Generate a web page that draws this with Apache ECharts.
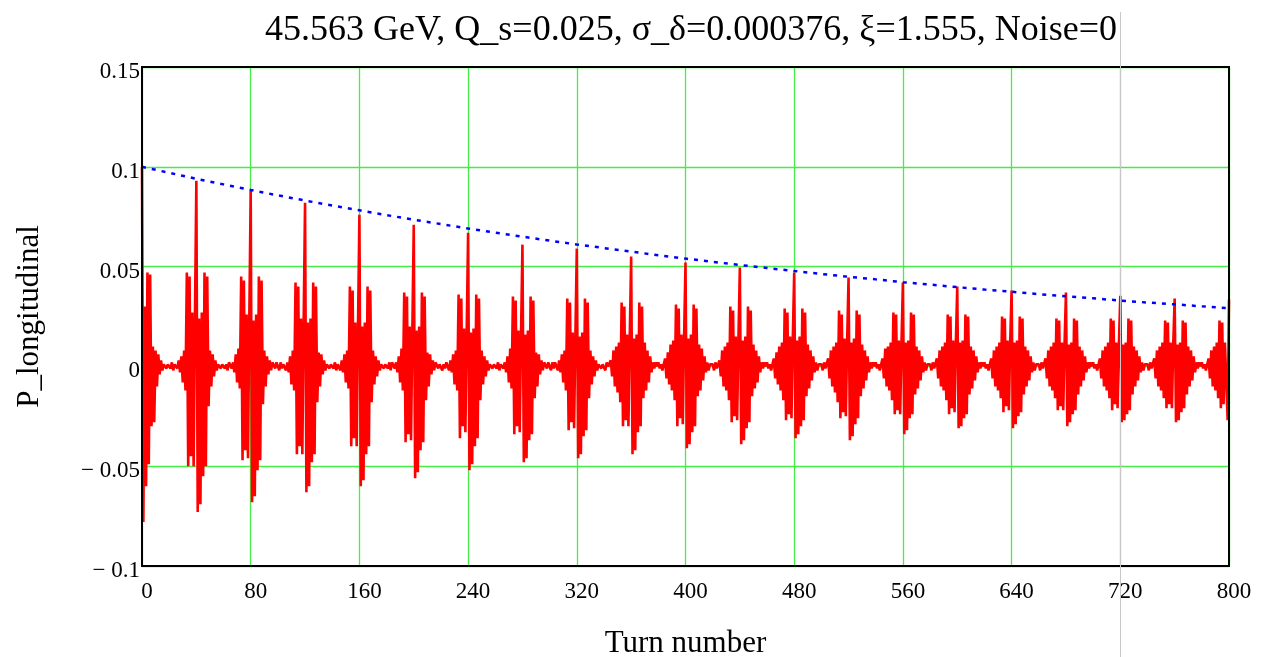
<!DOCTYPE html>
<html>
<head>
<meta charset="utf-8">
<script src="https://cdn.jsdelivr.net/npm/echarts@6/dist/echarts.min.js"></script>
<style>
html,body{margin:0;padding:0;background:#fff;}
#chart{width:1268px;height:657px;}
</style>
</head>
<body>
<div id="chart"></div>
<script>
// ---- data ----
var titleText = '45.563 GeV, Q_s=0.025, \u03c3_\u03b4=0.000376, \u03be=1.555, Noise=0';
var xName = 'Turn number';
var yName = 'P_longitudinal';
var xTicks = [0, 80, 160, 240, 320, 400, 480, 560, 640, 720, 800];
var yTicks = [-0.1, -0.05, 0, 0.05, 0.1, 0.15];

// P_longitudinal, one value per turn (turn = index), 0..800
var pLongitudinal = [
  // turns 0..19
  0.100,-0.078,0.030,-0.060,0.047,-0.049,0.046,-0.030,0.010,-0.028,
  0.008,-0.010,0.006,-0.004,0.003,-0.002,0.001,0.002,-0.001,0.001,
  // turns 20..59 (burst at 40)
  0.001,-0.001,0.002,-0.002,0.001,0.002,-0.001,0.003,-0.003,
  0.005,-0.008,0.008,-0.012,
  0.047,-0.050,0.045,-0.045,0.027,-0.050,0.027,
  0.093,-0.073,0.024,-0.069,0.027,-0.055,0.047,-0.050,0.045,
  -0.020,0.008,-0.010,0.006,-0.005,0.003,-0.002,0.001,0.002,-0.001,0.001,
  // turns 60..99 (burst at 80)
  0.002,-0.001,0.001,-0.002,0.002,0.001,-0.001,0.002,-0.003,
  0.006,-0.008,0.009,-0.011,
  0.045,-0.047,0.043,-0.042,0.026,-0.046,0.026,
  0.088,-0.068,0.023,-0.065,0.026,-0.052,0.045,-0.047,0.043,
  -0.019,0.008,-0.010,0.005,-0.004,0.003,-0.002,0.002,0.001,-0.001,0.002,
  // turns 100..139 (burst at 120)
  0.001,-0.002,0.002,-0.001,0.001,0.002,-0.002,0.002,-0.003,
  0.005,-0.009,0.008,-0.012,
  0.042,-0.044,0.040,-0.040,0.024,-0.044,0.024,
  0.082,-0.063,0.022,-0.060,0.024,-0.048,0.042,-0.044,0.040,
  -0.018,0.007,-0.010,0.006,-0.004,0.003,-0.002,0.001,0.002,-0.001,0.001,
  // turns 140..179 (burst at 160)
  0.002,-0.001,0.002,-0.002,0.001,0.001,-0.002,0.003,-0.003,
  0.006,-0.008,0.008,-0.011,
  0.040,-0.040,0.038,-0.036,0.022,-0.040,0.022,
  0.076,-0.060,0.020,-0.057,0.022,-0.044,0.040,-0.040,0.038,
  -0.018,0.008,-0.009,0.005,-0.005,0.003,-0.002,0.001,0.002,-0.001,0.001,
  // turns 180..219 (burst at 200)
  0.001,-0.001,0.002,-0.002,0.002,0.001,-0.001,0.002,-0.003,
  0.005,-0.008,0.009,-0.012,
  0.037,-0.038,0.035,-0.034,0.020,-0.037,0.020,
  0.071,-0.056,0.018,-0.053,0.020,-0.042,0.037,-0.038,0.035,
  -0.017,0.007,-0.010,0.006,-0.004,0.003,-0.002,0.002,0.001,-0.001,0.001,
  // turns 220..259 (burst at 240)
  0.002,-0.002,0.001,-0.001,0.002,0.001,-0.002,0.003,-0.003,
  0.006,-0.009,0.008,-0.012,
  0.036,-0.036,0.034,-0.030,0.019,-0.033,0.019,
  0.067,-0.052,0.017,-0.049,0.019,-0.040,0.036,-0.036,0.034,
  -0.017,0.008,-0.009,0.005,-0.005,0.003,-0.002,0.001,0.002,-0.001,0.001,
  // turns 260..299 (burst at 280)
  0.001,-0.001,0.002,-0.002,0.001,0.002,-0.001,0.002,-0.003,
  0.005,-0.008,0.009,-0.011,
  0.035,-0.034,0.033,-0.030,0.018,-0.033,0.018,
  0.061,-0.048,0.016,-0.046,0.018,-0.037,0.035,-0.034,0.033,
  -0.016,0.007,-0.010,0.006,-0.004,0.003,-0.002,0.002,0.001,-0.001,0.002,
  // turns 300..339 (burst at 320)
  0.001,-0.002,0.002,-0.001,0.002,0.001,-0.002,0.003,-0.003,
  0.006,-0.008,0.008,-0.012,
  0.034,-0.032,0.032,-0.028,0.017,-0.031,0.017,
  0.059,-0.046,0.015,-0.044,0.017,-0.035,0.034,-0.032,0.032,
  -0.016,0.008,-0.009,0.005,-0.005,0.003,-0.002,0.001,0.002,-0.001,0.001,
  // turns 340..379 (burst at 360)
  0.001,-0.002,0.002,0.000,-0.001,
  0.003,-0.005,0.008,-0.010,0.010,-0.013,
  0.012,-0.018,0.032,-0.030,0.030,-0.027,0.016,-0.030,0.016,
  0.055,-0.044,0.014,-0.042,0.016,-0.033,0.032,-0.030,0.030,
  -0.016,0.012,-0.012,0.008,-0.008,0.005,
  -0.003,0.002,-0.001,0.002,0.000,
  // turns 380..419 (burst at 400)
  0.002,-0.001,0.001,-0.002,0.001,
  0.004,-0.006,0.007,-0.009,0.011,-0.012,
  0.013,-0.017,0.031,-0.030,0.029,-0.026,0.016,-0.029,0.016,
  0.052,-0.041,0.014,-0.039,0.016,-0.033,0.031,-0.030,0.029,
  -0.015,0.011,-0.012,0.009,-0.007,0.005,
  -0.003,0.002,-0.002,0.001,0.001,
  // turns 420..459 (burst at 440)
  0.001,-0.002,0.002,-0.001,0.000,
  0.003,-0.005,0.008,-0.010,0.010,-0.012,
  0.012,-0.017,0.030,-0.028,0.028,-0.025,0.015,-0.027,0.015,
  0.0495,-0.039,0.013,-0.037,0.015,-0.031,0.030,-0.028,0.028,
  -0.015,0.011,-0.011,0.008,-0.008,0.005,
  -0.003,0.002,-0.001,0.002,0.000,
  // turns 460..499 (burst at 480)
  0.002,-0.001,0.001,-0.002,0.001,
  0.004,-0.006,0.007,-0.009,0.010,-0.012,
  0.012,-0.017,0.029,-0.027,0.027,-0.024,0.015,-0.026,0.015,
  0.047,-0.036,0.013,-0.034,0.015,-0.030,0.029,-0.027,0.027,
  -0.015,0.011,-0.011,0.008,-0.007,0.005,
  -0.003,0.002,-0.002,0.001,0.001,
  // turns 500..539 (burst at 520)
  0.001,-0.002,0.002,-0.001,0.000,
  0.004,-0.006,0.008,-0.010,0.010,-0.013,
  0.012,-0.018,0.028,-0.026,0.026,-0.023,0.014,-0.025,0.014,
  0.0445,-0.037,0.012,-0.035,0.014,-0.029,0.028,-0.026,0.026,
  -0.015,0.011,-0.011,0.008,-0.007,0.005,
  -0.003,0.002,-0.001,0.002,0.000,
  // turns 540..579 (burst at 560)
  0.002,-0.001,0.001,-0.002,0.001,
  0.004,-0.006,0.009,-0.010,0.010,-0.012,
  0.012,-0.017,0.027,-0.024,0.026,-0.022,0.013,-0.024,0.013,
  0.042,-0.034,0.012,-0.032,0.013,-0.026,0.027,-0.024,0.026,
  -0.014,0.010,-0.011,0.008,-0.007,0.005,
  -0.003,0.002,-0.002,0.001,0.001,
  // turns 580..619 (burst at 600)
  0.001,-0.002,0.002,-0.001,0.000,
  0.004,-0.006,0.008,-0.010,0.010,-0.012,
  0.012,-0.017,0.026,-0.024,0.025,-0.021,0.013,-0.023,0.013,
  0.040,-0.031,0.012,-0.030,0.013,-0.026,0.026,-0.024,0.025,
  -0.014,0.010,-0.011,0.008,-0.007,0.005,
  -0.003,0.002,-0.001,0.002,0.000,
  // turns 620..659 (burst at 640)
  0.002,-0.001,0.001,-0.002,0.001,
  0.004,-0.006,0.008,-0.010,0.010,-0.012,
  0.012,-0.016,0.025,-0.023,0.024,-0.020,0.013,-0.022,0.013,
  0.038,-0.031,0.012,-0.029,0.013,-0.025,0.025,-0.023,0.024,
  -0.014,0.010,-0.010,0.008,-0.007,0.005,
  -0.003,0.002,-0.002,0.001,0.001,
  // turns 660..699 (burst at 680)
  0.001,-0.002,0.002,-0.001,0.000,
  0.004,-0.006,0.008,-0.010,0.010,-0.012,
  0.012,-0.016,0.024,-0.022,0.023,-0.020,0.012,-0.022,0.012,
  0.037,-0.030,0.011,-0.028,0.012,-0.024,0.024,-0.022,0.023,
  -0.014,0.010,-0.010,0.008,-0.007,0.005,
  -0.003,0.002,-0.001,0.002,0.000,
  // turns 700..739 (burst at 720)
  0.002,-0.001,0.001,-0.002,0.001,
  0.004,-0.006,0.008,-0.010,0.010,-0.012,
  0.012,-0.016,0.024,-0.022,0.023,-0.019,0.012,-0.021,0.012,
  0.0354,-0.028,0.011,-0.027,0.012,-0.024,0.024,-0.022,0.023,
  -0.014,0.010,-0.010,0.008,-0.007,0.005,
  -0.003,0.002,-0.002,0.001,0.001,
  // turns 740..779 (burst at 760)
  0.001,-0.002,0.002,-0.001,0.000,
  0.004,-0.006,0.008,-0.010,0.010,-0.012,
  0.012,-0.016,0.023,-0.021,0.022,-0.019,0.012,-0.021,0.012,
  0.034,-0.028,0.011,-0.027,0.012,-0.023,0.023,-0.021,0.022,
  -0.014,0.010,-0.010,0.008,-0.007,0.005,
  -0.003,0.002,-0.001,0.002,0.000,
  // turns 780..800 (burst at 800)
  0.002,-0.001,0.001,-0.002,0.001,
  0.004,-0.006,0.008,-0.010,0.010,-0.012,
  0.012,-0.016,0.023,-0.021,0.022,-0.019,0.012,0.011,-0.027,
  0.0335
];

// dotted blue envelope, read every 20 turns
var envelopeTurns = [0,20,40,60,80,100,120,140,160,180,200,220,240,260,280,300,320,340,360,380,
                     400,420,440,460,480,500,520,540,560,580,600,620,640,660,680,700,720,740,760,780,800];
var envelopeValues = [0.1000,0.0970,0.0940,0.0912,0.0884,0.0857,0.0831,0.0806,0.0782,0.0758,
                      0.0735,0.0713,0.0691,0.0670,0.0650,0.0630,0.0611,0.0593,0.0575,0.0557,
                      0.0540,0.0524,0.0508,0.0493,0.0478,0.0463,0.0449,0.0436,0.0422,0.0410,
                      0.0397,0.0385,0.0374,0.0362,0.0351,0.0341,0.0330,0.0320,0.0311,0.0301,0.0292];

var cursorTurn = 720; // light grey cursor line in the screenshot

// ---- chart ----
var serif = '"Liberation Serif", "DejaVu Serif", serif';
var gridGreen = '#44ee44';

var redData = pLongitudinal.map(function (v, i) { return [i, v]; });
var blueData = envelopeTurns.map(function (t, i) { return [t, envelopeValues[i]]; });

function fmtY(v) {
  var r = Math.round(v * 100) / 100;
  if (Math.abs(r) < 1e-9) return '0';
  var s = String(+Math.abs(r).toFixed(2));
  return r < 0 ? '\u2212 ' + s : s;
}

var chart = echarts.init(document.getElementById('chart'), null, {renderer: 'canvas'});
chart.setOption({
  animation: false,
  backgroundColor: '#ffffff',
  title: {
    text: titleText,
    left: 686,
    textAlign: 'center',
    top: 8,
    textStyle: {fontFamily: serif, fontSize: 36, fontWeight: 'normal', color: '#000'}
  },
  grid: {
    left: 142, right: 39, top: 67, bottom: 91,
    outerBoundsMode: 'none', containLabel: false,
    show: true, borderColor: '#000', borderWidth: 2, backgroundColor: 'transparent', z: 10
  },
  xAxis: {
    type: 'value', min: xTicks[0], max: xTicks[xTicks.length - 1], interval: 80,
    name: xName, nameLocation: 'middle', nameGap: 62,
    nameTextStyle: {fontFamily: serif, fontSize: 31, color: '#000'},
    axisLine: {show: false},
    axisTick: {show: false},
    axisLabel: {fontFamily: serif, fontSize: 23, color: '#000', margin: 14, padding: [0, 0, 0, 10]},
    splitLine: {show: true, lineStyle: {color: gridGreen, width: 1.3}}
  },
  yAxis: {
    type: 'value', min: yTicks[0], max: yTicks[yTicks.length - 1], interval: 0.05,
    name: yName, nameLocation: 'middle', nameGap: 97, nameRotate: 90,
    nameTextStyle: {fontFamily: serif, fontSize: 31, color: '#000'},
    axisLine: {show: false},
    axisTick: {show: false},
    axisLabel: {fontFamily: serif, fontSize: 23, color: '#000', margin: 2,
                verticalAlign: 'top', lineHeight: 10, formatter: fmtY},
    splitLine: {show: true, lineStyle: {color: gridGreen, width: 1.3}}
  },
  series: [
    {
      type: 'line', data: redData, showSymbol: false, symbol: 'none',
      lineStyle: {color: '#ff0000', width: 2.6}, z: 3, silent: true
    },
    {
      type: 'line', data: blueData, showSymbol: false, symbol: 'none', smooth: false,
      lineStyle: {color: '#0000ff', width: 2.5, type: [4, 6]}, z: 4, silent: true
    }
  ]
});

var cx = chart.convertToPixel({xAxisIndex: 0}, cursorTurn);
chart.setOption({
  graphic: [{
    type: 'line', z: 20, silent: true,
    shape: {x1: Math.round(cx) + 0.5, y1: 12, x2: Math.round(cx) + 0.5, y2: 657},
    style: {stroke: '#c8c8c8', lineWidth: 1}
  }]
});
</script>
</body>
</html>
